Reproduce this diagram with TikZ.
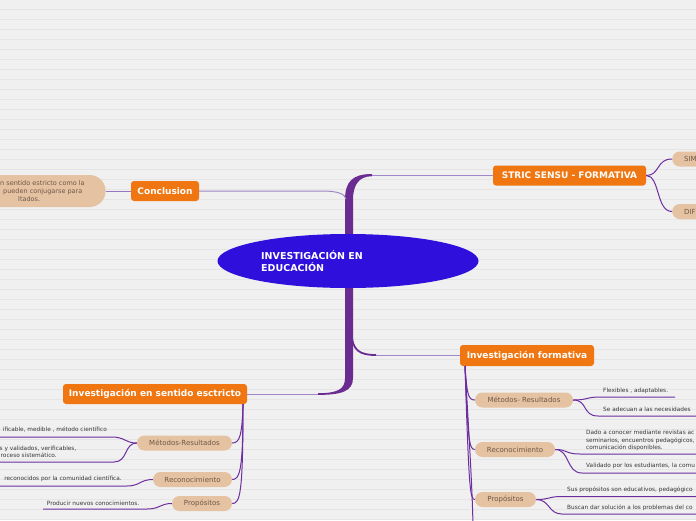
\documentclass[tikz,border=0pt]{standalone}
\usepackage{fontspec}
\setmainfont{DejaVu Sans}
\usepackage{tikz}
\usetikzlibrary{positioning, shapes.geometric}
\definecolor{paper}{HTML}{F0F0F0}
\definecolor{ruling}{HTML}{E5E5E5}
\definecolor{topicfill}{HTML}{EF7610}
\definecolor{sand}{HTML}{E5C2A1}
\definecolor{sandtext}{HTML}{6E5848}
\definecolor{trunkc}{HTML}{6A2C91}
\definecolor{branchc}{HTML}{A088C8}
\definecolor{twigc}{HTML}{6C2E9E}
\definecolor{corec}{HTML}{2E0FDB}
\definecolor{notec}{HTML}{383838}

\begin{document}
\begin{tikzpicture}[x=1pt, y=-1pt,
  topic/.style={rectangle, rounded corners=3pt, fill=topicfill, text=white,
                minimum height=20pt, inner sep=0pt,
                font=\fontsize{9}{11}\selectfont\bfseries},
  pill/.style={rectangle, rounded corners=7.5pt, fill=sand, text=sandtext,
               minimum height=15pt, inner sep=0pt,
               font=\fontsize{7}{8}\selectfont},
  lbl/.style={inner sep=0pt, align=left, text=notec,
              font=\fontsize{5.8}{7.5}\selectfont},
  branchline/.style={draw=branchc, line width=1pt},
  twigline/.style={draw=twigc, line width=1pt}
]
\useasboundingbox (0,0) rectangle (696,520);
\clip (0,0) rectangle (696,520);

% Paper
\fill[paper] (0,0) rectangle (696,520);
\foreach \k in {0,...,51}
  \draw[ruling, line width=0.7pt] (0,9.3+10*\k) -- (696,9.3+10*\k);

% Trunk
\fill[trunkc] (372,174) .. controls (352,174) and (345,182) .. (345,200)
  -- (345,378) .. controls (345,389) and (338,393.2) .. (318,393.2)
  -- (318,394.9) .. controls (342,394.9) and (353,391) .. (353,378)
  -- (353,200) .. controls (353,186) and (358,176.2) .. (372,176.2) -- cycle;
\coordinate (jtop) at (372,175.1);
\coordinate (jleft) at (346,199);
\coordinate (jright) at (376,355);
\coordinate (jbottom) at (318,394);
\draw[trunkc, line width=1.8pt] (351.5,332) .. controls (352,351) and (360,355) .. (jright);

% Centre
\node[ellipse, fill=corec, minimum width=261pt, minimum height=54pt, inner sep=0pt] (core) at (348,261) {};
\node[anchor=west, align=left, text=white, inner sep=0pt,
      font=\fontsize{9.5}{12}\selectfont\bfseries] (coretxt) at (261,261) {INVESTIGACIÓN EN\\EDUCACIÓN};

% Main topics
\node[topic, minimum width=68pt] (concl) at (165,191) {Conclusion};
\node[topic, minimum width=153pt] (stric) at (569.5,175.5) {STRIC SENSU - FORMATIVA};
\node[topic, minimum width=134pt, minimum height=21pt] (formativa) at (527,355.5) {Investigación formativa};
\node[topic, minimum width=184pt] (estricto) at (155,394) {Investigación en sentido esctricto};

\draw[branchline] (jtop) -- (jtop -| stric.west);
\draw[branchline] (concl.east) -- (322,191) .. controls (338,191) and (345,194) .. (jleft);
\draw[branchline] (jright) -- (jright -| formativa.west);
\draw[branchline] (jbottom) -- (jbottom -| estricto.east);

% Conclusion
\node[pill, minimum width=150pt, minimum height=32pt, rounded corners=16pt, left=25pt of concl] (conclpill) {};
\node[lbl, anchor=west, text=sandtext, font=\fontsize{6.5}{8.1}\selectfont] (conclnote) at (0,191)
  {n sentido estricto como la\\\hspace*{3pt}pueden conjugarse para\\\hspace*{18pt}ltados.};
\draw[twigline, draw=branchc!80!twigc] (conclpill.east) -- (concl.west);

% STRIC SENSU
\node[pill, anchor=west, inner xsep=12pt] (sim) at (672,159) {SIM};
\node[pill, anchor=west, inner xsep=12pt] (dif) at (672,211.5) {DIF};
\draw[twigline] (stric.east) .. controls (660,175.5) and (656,159) .. (sim.west);
\draw[twigline] (stric.east) .. controls (660,175.5) and (656,211.5) .. (dif.west);

% Investigacion formativa
\coordinate (fb) at (465,366);
\node[pill, minimum width=98pt] (metF) at (524,400) {Métodos- Resultados};
\node[pill, minimum width=80pt] (recF) at (515,449.5) {Reconocimiento};
\node[pill, minimum width=61pt] (propF) at (505.5,499.5) {Propósitos};
\coordinate (fmore) at (473,525);
\draw[twigline] (fb) .. controls (467,394) and (468,400) .. (metF.west);
\draw[twigline] (fb) .. controls (468,440) and (469,449.5) .. (recF.west);
\draw[twigline] (fb) .. controls (469,490) and (470,499.5) .. (propF.west);
\draw[twigline] (fb) .. controls (468,420) and (472,480) .. (fmore);

\node[lbl, anchor=west] (flex) at (603,391) {Flexibles , adaptables.};
\node[lbl, anchor=west] (adec) at (603,409) {Se adecuan a las necesidades};
\coordinate (flexu) at (675,397);
\coordinate (adecu) at (700,416);
\draw[twigline] (metF.east) .. controls (588,400) and (586,397) .. (600,397) -- (flexu);
\draw[twigline] (metF.east) .. controls (588,400) and (582,416) .. (598,416) -- (adecu);

\node[lbl, anchor=west] (dado) at (586,440.5)
  {Dado a conocer mediante revistas ac\\seminarios, encuentros pedagógicos,\\comunicación disponibles.};
\node[lbl, anchor=west] (valid) at (586,466) {Validado por los estudiantes, la comu};
\coordinate (dadou) at (700,454);
\coordinate (validu) at (700,473);
\draw[twigline] (recF.east) .. controls (568,449.5) and (565,454) .. (580,454) -- (dadou);
\draw[twigline] (recF.east) .. controls (570,449.5) and (566,473) .. (582,473) -- (validu);

\node[lbl, anchor=west] (sus) at (567,490) {Sus propósitos son educativos, pedagógico};
\node[lbl, anchor=west] (busc) at (567,508) {Buscan dar solución a los problemas del co};
\coordinate (susu) at (700,496.5);
\coordinate (buscu) at (700,514);
\draw[twigline] (propF.east) .. controls (550,499.5) and (548,496.5) .. (562,496.5) -- (susu);
\draw[twigline] (propF.east) .. controls (550,499.5) and (548,514) .. (562,514) -- (buscu);

% Investigacion en sentido estricto
\coordinate (eb) at (243,404);
\node[pill, minimum width=95pt] (metE) at (184.5,443) {Métodos-Resultados};
\node[pill, minimum width=79pt] (recE) at (192.5,479.5) {Reconocimiento};
\node[pill, minimum width=60pt] (propE) at (202,503.5) {Propósitos};
\draw[twigline] (eb) .. controls (242,435) and (240,443) .. (metE.east);
\draw[twigline] (eb) .. controls (243,470) and (240,479.5) .. (recE.east);
\draw[twigline] (eb) .. controls (243,495) and (240,503.5) .. (propE.east);

\node[lbl, anchor=east] (ific) at (107,430) {ificable, medible , método científico};
\node[lbl, anchor=west] (svalid) at (-0.5,452) {s y validados, verificables,\\\hspace*{1pt}roceso sistemático.};
\coordinate (ificu) at (-5,437);
\coordinate (svalidu) at (-5,462);
\draw[twigline] (metE.west) .. controls (125,443) and (125,437) .. (112,437) -- (ificu);
\draw[twigline] (metE.west) .. controls (124,443) and (128,462) .. (114,462) -- (svalidu);

\node[lbl, anchor=east] (recon) at (122,479) {reconocidos por la comunidad científica.};
\coordinate (reconu) at (-5,486);
\draw[twigline] (recE.west) .. controls (140,479.5) and (140,486) .. (127,486) -- (reconu);

\node[lbl, anchor=west] (prod) at (46.7,503) {Producir nuevos conocimientos.};
\coordinate (produ) at (43,509);
\draw[twigline] (propE.west) .. controls (160,503.5) and (160,509) .. (147,509) -- (produ);

\end{tikzpicture}
\end{document}
